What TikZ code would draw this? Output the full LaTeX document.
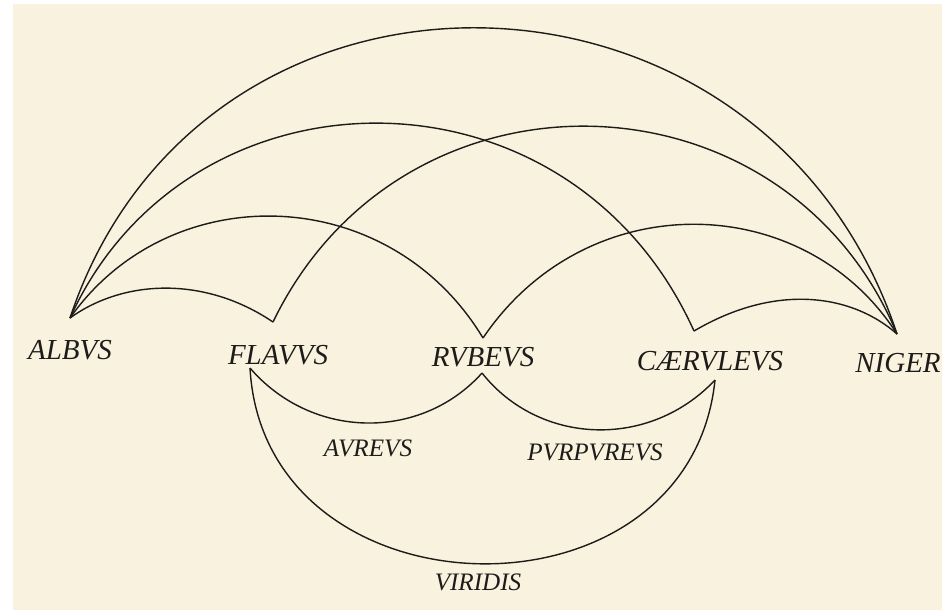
\documentclass[tikz,border=0pt]{standalone}
\usepackage{fontspec}
\setmainfont{Liberation Serif}
\definecolor{paper}{RGB}{248,242,222}
\definecolor{ink}{RGB}{30,28,26}
\begin{document}
\begin{tikzpicture}[x=0.02cm, y=-0.02cm,
        bow/.style={draw=ink, line width=0.8pt},
        hue/.style={font=\fontsize{16.5}{18}\selectfont\itshape, text=ink, inner sep=0pt},
        blend/.style={font=\fontsize{14.3}{16}\selectfont\itshape, text=ink, inner sep=0pt}]

    \useasboundingbox (0,0) rectangle (942,610);
    \fill[white] (0,0) rectangle (942,610);
    \fill[paper] (13,4) rectangle (942,610);

    % Colores simplices
    \node[hue] (albvs) at (70,350) {ALBVS};
    \node[hue] (flavvs) at (278,355) {FLAVVS};
    \node[hue] (rvbevs) at (483,357) {RVBEVS};
    \node[hue] (caervlevs) at (710,361) {CÆRVLEVS};
    \node[hue] (niger) at (898,363) {NIGER};

    % Colores mixti
    \node[blend] (avrevs) at (368,448) {AVREVS};
    \node[blend] (pvrpvrevs) at (595,452) {PVRPVREVS};
    \node[blend] (viridis) at (478,582) {VIRIDIS};

    % Puncta
    \coordinate (albvs-p) at (70,318);
    \coordinate (flavvs-up) at (273,322);
    \coordinate (flavvs-dn) at (250,368);
    \coordinate (rvbevs-up) at (483,338);
    \coordinate (rvbevs-dn) at (482,373);
    \coordinate (caer-up) at (694,331);
    \coordinate (caer-dn) at (715,380);
    \coordinate (niger-p) at (897,334);

    % Arcus superiores
    \draw[bow] (albvs-p) .. controls +(132,-396) and +(-132,-399) .. (niger-p);
    \draw[bow] (albvs-p) .. controls +(118,-260) and +(-125,-277) .. (caer-up);
    \draw[bow] (flavvs-up) .. controls +(130,-269) and +(-112,-269) .. (niger-p);
    \draw[bow] (albvs-p) .. controls +(100,-142) and +(-94,-156) .. (rvbevs-up);
    \draw[bow] (rvbevs-up) .. controls +(104,-154) and +(-92,-144) .. (niger-p);
    \draw[bow] (albvs-p) .. controls +(54,-39) and +(-68,-46) .. (flavvs-up);
    \draw[bow] (caer-up) .. controls +(83,-49) and +(-44,-39) .. (niger-p);

    % Arcus inferiores
    \draw[bow] (flavvs-dn) .. controls +(62,72) and +(-61,68) .. (rvbevs-dn);
    \draw[bow] (rvbevs-dn) .. controls +(57,72) and +(-66,70) .. (caer-dn);
    \draw[bow] (flavvs-dn) .. controls +(14,254) and +(-26,252) .. (caer-dn);

\end{tikzpicture}
\end{document}
